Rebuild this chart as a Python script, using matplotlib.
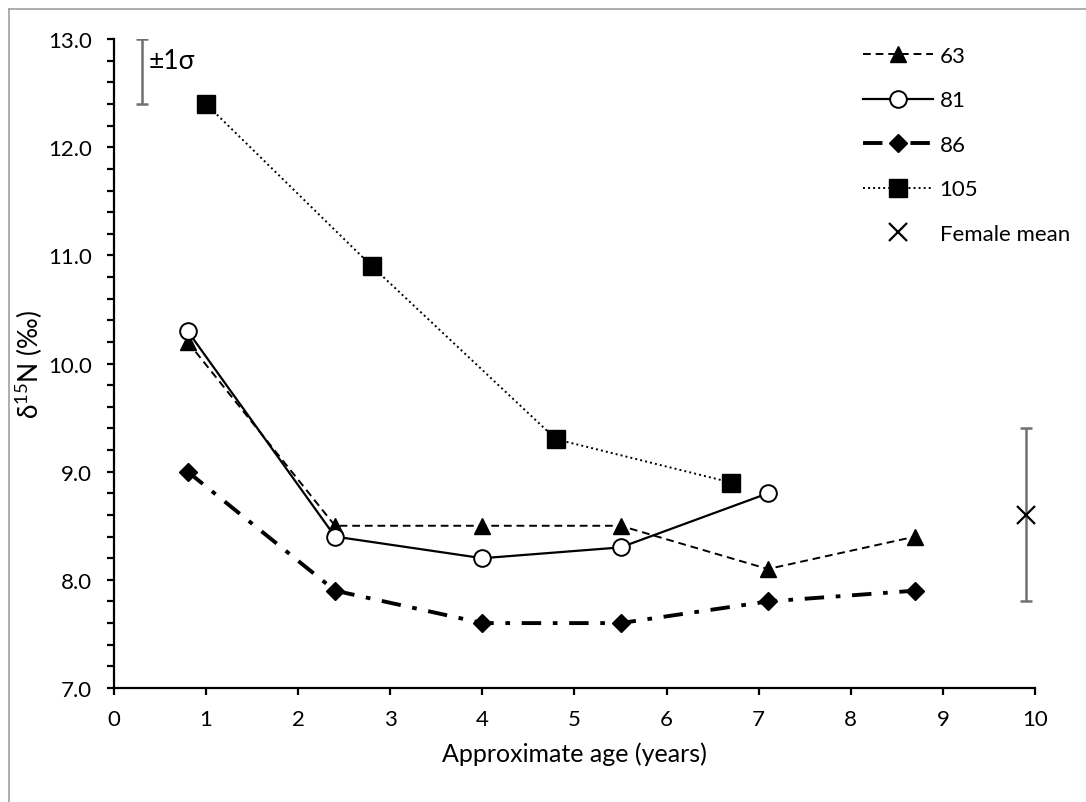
"""Line chart of delta 15N by approximate age."""

import matplotlib
matplotlib.use('Agg')
import matplotlib.pyplot as plt
from matplotlib.lines import Line2D

plt.rcParams['font.family'] = ['Lato', 'DejaVu Sans']
plt.rcParams['mathtext.fontset'] = 'custom'
plt.rcParams['mathtext.rm'] = 'Lato'

# Data
age_63 = [0.8, 2.4, 4.0, 5.5, 7.1, 8.7]
d15n_63 = [10.2, 8.5, 8.5, 8.5, 8.1, 8.4]
age_81 = [0.8, 2.4, 4.0, 5.5, 7.1]
d15n_81 = [10.3, 8.4, 8.2, 8.3, 8.8]
age_86 = [0.8, 2.4, 4.0, 5.5, 7.1, 8.7]
d15n_86 = [9.0, 7.9, 7.6, 7.6, 7.8, 7.9]
age_105 = [1.0, 2.8, 4.8, 6.7]
d15n_105 = [12.4, 10.9, 9.3, 8.9]

female_age = [9.9]
female_mean = [8.6]
female_sd = [0.8]

sigma_x = [0.3]
sigma_y = [12.7]
sigma_err = [0.3]

fig = plt.figure(figsize=(10.86, 8.03), dpi=100)
ax = fig.add_axes([0.105, 0.142, 0.848, 0.808])

# Figure frame (left and top edges visible)
fig.add_artist(Line2D([9 / 1086, 9 / 1086], [0, 1 - 10 / 803],
                      transform=fig.transFigure, color='#a0a0a0', lw=1.2))
fig.add_artist(Line2D([9 / 1086, 1], [1 - 10 / 803, 1 - 10 / 803],
                      transform=fig.transFigure, color='#a0a0a0', lw=1.2))

ax.plot(age_63, d15n_63, color='black', lw=1.4, ls=(0, (4, 2.5)),
        marker='^', ms=12, mfc='black', mec='black', label='63', zorder=3)
ax.plot(age_81, d15n_81, color='black', lw=1.6, ls='-',
        marker='o', ms=12, mfc='white', mec='black', mew=1.4, label='81', zorder=4)
ax.plot(age_86, d15n_86, color='black', lw=2.8, ls=(0, (5, 3, 1.2, 3)),
        marker='D', ms=9, mfc='black', mec='black', label='86', zorder=3)
ax.plot(age_105, d15n_105, color='black', lw=1.4, ls=(0, (1, 1.6)),
        marker='s', ms=12.5, mfc='black', mec='black', label='105', zorder=3)

# Female mean with error bar
ax.errorbar(female_age, female_mean, yerr=female_sd, fmt='none',
            ecolor='#707070', elinewidth=1.8, capsize=4.5, capthick=1.8, zorder=2)
ax.plot(female_age, female_mean, ls='none', marker='x', ms=13, mew=1.6,
        color='black', label='Female mean', zorder=3)

# +-1 sigma reference bar
ax.errorbar(sigma_x, sigma_y, yerr=sigma_err, fmt='none',
            ecolor='#707070', elinewidth=1.8, capsize=4.5, capthick=1.8)
ax.text(0.38, 12.8, '±1σ', fontsize=19, ha='left', va='center')

ax.set_xlim(0, 10)
ax.set_ylim(7.0, 13.0)
ax.set_xticks(range(0, 11))
ax.set_yticks([7, 8, 9, 10, 11, 12, 13])
ax.set_yticklabels([f'{v:.1f}' for v in [7, 8, 9, 10, 11, 12, 13]])
ax.set_yticks([7 + 0.2 * i for i in range(31)], minor=True)
ax.tick_params(axis='both', labelsize=16, direction='out', width=1.6, length=5)
ax.tick_params(axis='y', which='minor', width=1.6, length=5)
ax.tick_params(axis='y', pad=11)
ax.tick_params(axis='x', pad=10)

for side in ('top', 'right'):
    ax.spines[side].set_visible(False)
for side in ('left', 'bottom'):
    ax.spines[side].set_linewidth(1.6)

ax.set_xlabel('Approximate age (years)', fontsize=18, labelpad=9)
ax.set_ylabel('δ$^{15}$N (‰)', fontsize=19, labelpad=2)

ax.legend(loc='upper left', frameon=False, fontsize=16, handlelength=3.15,
          handletextpad=0.3, labelspacing=1.1, borderaxespad=0, borderpad=0,
          bbox_to_anchor=(863 / 1086, 1 - 47 / 803),
          bbox_transform=fig.transFigure)

plt.savefig('out.png', dpi=100)
plt.close()
